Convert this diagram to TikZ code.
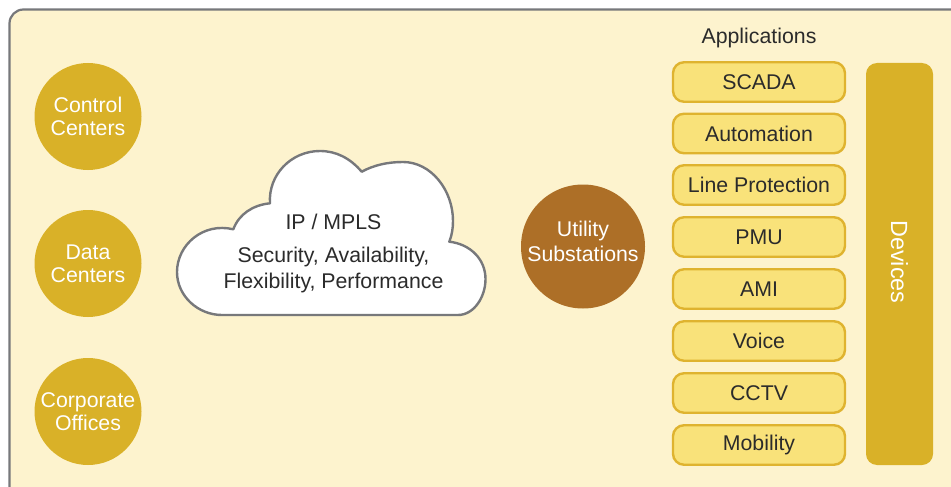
\documentclass[tikz,border=0pt]{standalone}
\usepackage{fontspec}
\setmainfont{Liberation Sans}
\definecolor{bgc}{HTML}{FDF3CE}
\definecolor{framec}{HTML}{77787B}
\definecolor{gold}{HTML}{D9B128}
\definecolor{pillc}{HTML}{F9E27A}
\definecolor{pilledge}{HTML}{DFB32F}
\definecolor{brownc}{HTML}{AD6F27}
\definecolor{inkc}{HTML}{2B2B2B}
\tikzset{
  lab/.style={font=\fontsize{21.3}{23}\selectfont, align=center, text=inkc, inner sep=0pt},
  site/.style={circle, fill=gold, minimum size=107pt, inner sep=0pt, align=center, text=white, font=\fontsize{21.3}{23}\selectfont},
  hub/.style={circle, fill=brownc, minimum size=124pt, inner sep=0pt, align=center, text=white, font=\fontsize{21.3}{25}\selectfont},
  pill/.style={rounded corners=11pt, draw=pilledge, line width=2.4pt, fill=pillc, minimum width=172pt, minimum height=39.5pt, inner sep=0pt, text=inkc, font=\fontsize{21.3}{23}\selectfont},
}
\begin{document}
\begin{tikzpicture}[x=1pt,y=-1pt]
\useasboundingbox (0,0) rectangle (951,487);
\fill[white] (0,0) rectangle (951,487);
\draw[framec, line width=2.2pt, fill=bgc, rounded corners=14pt] (9.5,500) -- (9.5,9.5) -- (965,9.5) -- (965,500) -- cycle;
\node[site] (cc) at (88,116.5) {Control\\Centers};
\node[site] (dc) at (88,263.5) {Data\\Centers};
\node[site] (co) at (88,411.5) {Corporate\\Offices};
\draw[framec, line width=2.4pt, fill=white, line join=round]
 (222,315) -- (458,315)
 .. controls (474,315) and (485.5,297) .. (485.5,279)
 .. controls (485.5,259) and (470,244) .. (449.3,241.7)
 .. controls (452,235) and (453,228) .. (453,221)
 .. controls (453,190) and (431,162) .. (403,162)
 .. controls (388,162) and (374,165) .. (361.7,171.7)
 .. controls (350,158) and (336,151) .. (320,151)
 .. controls (291,151) and (268,175) .. (270,203.3)
 .. controls (253,205) and (239,214) .. (233.3,229.3)
 .. controls (203,222) and (177,245) .. (177,272)
 .. controls (177,296) and (198,315) .. (222,315) -- cycle;
\node[lab] (ip) at (333.5,222) {IP / MPLS};
\node[lab, font=\fontsize{21.3}{25.5}\selectfont] (sec) at (333.5,270) {Security, Availability,\\Flexibility, Performance};
\node[hub] (us) at (583,246.5) {};
\node[align=center, text=white, font=\fontsize{21.3}{25}\selectfont, inner sep=0pt] (ust) at (583,241.5) {Utility\\Substations};
\node[lab] (apps) at (759,38) {Applications};
\node[pill] (p1) at (759,82) {SCADA};
\node[pill] (p2) at (759,133.5) {Automation};
\node[pill] (p3) at (759,185) {Line Protection};
\node[pill] (p4) at (759,237) {PMU};
\node[pill] (p5) at (759,289) {AMI};
\node[pill] (p6) at (759,341) {Voice};
\node[pill] (p7) at (759,393) {CCTV};
\node[pill] (p8) at (759,445) {Mobility};
\node[rounded corners=11pt, fill=gold, minimum width=67pt, minimum height=402pt, inner sep=0pt] (dev) at (899.5,264) {};
\node[rotate=-90, text=white, font=\fontsize{23.4}{25}\selectfont, inner sep=0pt] (devt) at (899.5,262) {Devices};
\end{tikzpicture}
\end{document}
